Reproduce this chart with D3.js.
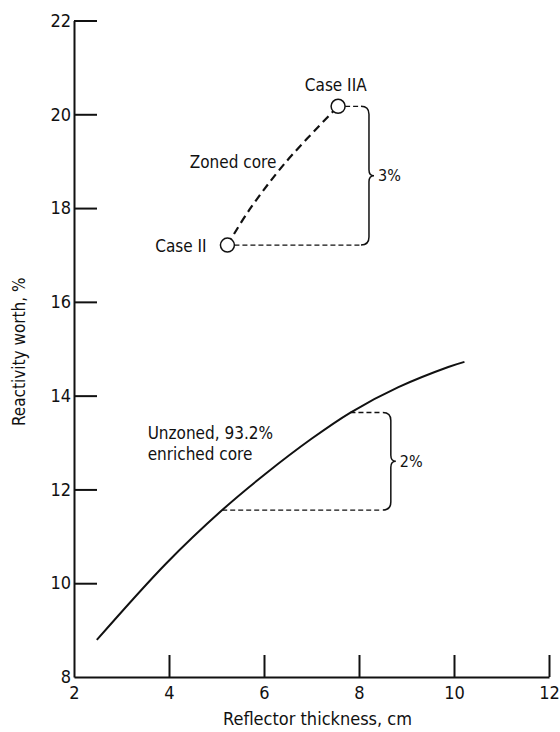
<!DOCTYPE html>
<html>
<head>
<meta charset="utf-8">
<script src="https://cdn.jsdelivr.net/npm/d3@7"></script>
<style>
  body { margin: 0; background: #fff; }
  svg text { font-family: "Liberation Sans Narrow", "DejaVu Sans Condensed", "Roboto", sans-serif; fill: #111; }
</style>
</head>
<body>
<svg id="chart" width="560" height="732"></svg>
<script>
// Unzoned, 93.2% enriched core (solid curve)
const unzonedX = [2.48, 3.94, 5.12, 6.04, 7.0, 7.82, 8.83, 9.88, 10.22];
const unzonedY = [8.79, 10.42, 11.56, 12.34, 13.08, 13.64, 14.18, 14.61, 14.72];

// Zoned core (dashed, Case II -> Case IIA)
const zonedX = [5.23, 5.69, 6.46, 7.56];
const zonedY = [17.21, 17.96, 18.98, 20.17];

const xTicks = [2, 4, 6, 8, 10, 12];
const yTicks = [8, 10, 12, 14, 16, 18, 20, 22];

// brackets: x position and label
const braceX = [8.21, 8.67];
const braceLabels = ["3%", "2%"];

const svg = d3.select("#chart");

const x = d3.scaleLinear().domain([2, 12]).range([74, 549]);
const y = d3.scaleLinear().domain([8, 22]).range([677, 20.5]);

// axes
const xAxis = d3.axisBottom(x)
  .tickValues(xTicks)
  .tickSizeInner(-22)
  .tickSizeOuter(0)
  .tickPadding(9)
  .tickFormat(d3.format("d"));
const yAxis = d3.axisLeft(y)
  .tickValues(yTicks)
  .tickSizeInner(-23)
  .tickSizeOuter(0)
  .tickPadding(3)
  .tickFormat(d3.format("d"));

const gx = svg.append("g")
  .attr("transform", `translate(0,${y(8)})`)
  .call(xAxis);
const gy = svg.append("g")
  .attr("transform", `translate(${x(2)},0)`)
  .call(yAxis);

[gx, gy].forEach(g => {
  g.select(".domain").attr("stroke", "#111").attr("stroke-width", 2);
  g.selectAll(".tick line").attr("stroke", "#111").attr("stroke-width", 2);
  g.selectAll(".tick text").attr("font-size", 18).attr("fill", "#111")
    .style("font-family", null);
});
gx.selectAll(".tick").filter(d => d === 2).select("line").remove();
gy.selectAll(".tick").filter(d => d === 8).select("line").remove();

// axis titles
svg.append("text")
  .attr("x", (x(2) + x(12)) / 2 + 6)
  .attr("y", 725)
  .attr("text-anchor", "middle")
  .attr("font-size", 18)
  .text("Reflector thickness, cm");

svg.append("text")
  .attr("transform", `translate(25,${(y(8) + y(22)) / 2 + 3}) rotate(-90)`)
  .attr("text-anchor", "middle")
  .attr("font-size", 17)
  .text("Reactivity worth, %");

// unzoned curve
const unzoned = unzonedX.map((d, i) => [d, unzonedY[i]]);
const line = d3.line()
  .x(d => x(d[0]))
  .y(d => y(d[1]))
  .curve(d3.curveCatmullRom);

svg.append("path")
  .datum(unzoned)
  .attr("fill", "none")
  .attr("stroke", "#111")
  .attr("stroke-width", 2)
  .attr("d", line);

// zoned core dashed curve
const zoned = zonedX.map((d, i) => [d, zonedY[i]]);
svg.append("path")
  .datum(zoned)
  .attr("fill", "none")
  .attr("stroke", "#111")
  .attr("stroke-width", 2.2)
  .attr("stroke-dasharray", "8,5")
  .attr("d", line);

// brackets
const r = 7;
function bracePath(px, yTop, yBot) {
  const ym = (yTop + yBot) / 2;
  return `M${px - 8},${yTop} Q${px},${yTop} ${px},${yTop + 8}
    L${px},${ym - 6} Q${px},${ym} ${px + 5},${ym} Q${px},${ym} ${px},${ym + 6}
    L${px},${yBot - 8} Q${px},${yBot} ${px - 8},${yBot}`;
}

const braces = [
  { x: braceX[0], lo: zoned[0], hi: zoned[zoned.length - 1], gap: r, label: braceLabels[0] },
  { x: braceX[1], lo: unzoned[2], hi: unzoned[5], gap: 0, label: braceLabels[1] }
];

braces.forEach(b => {
  const px = x(b.x);
  const yTop = y(b.hi[1]), yBot = y(b.lo[1]);
  svg.append("path")
    .attr("d", bracePath(px, yTop, yBot))
    .attr("fill", "none")
    .attr("stroke", "#111")
    .attr("stroke-width", 1.5);
  [b.lo, b.hi].forEach(p => {
    svg.append("line")
      .attr("x1", x(p[0]) + b.gap)
      .attr("x2", px - 9)
      .attr("y1", y(p[1]))
      .attr("y2", y(p[1]))
      .attr("stroke", "#111")
      .attr("stroke-width", 1.3)
      .attr("stroke-dasharray", "5,3");
  });
  svg.append("text")
    .attr("x", px + 9)
    .attr("y", (yTop + yBot) / 2)
    .attr("dy", "0.35em")
    .attr("font-size", 16)
    .text(b.label);
});

// case markers
svg.selectAll("circle.case")
  .data([zoned[0], zoned[zoned.length - 1]])
  .join("circle")
  .attr("class", "case")
  .attr("cx", d => x(d[0]))
  .attr("cy", d => y(d[1]))
  .attr("r", r)
  .attr("fill", "#fff")
  .attr("stroke", "#111")
  .attr("stroke-width", 1.5);

// annotation labels
const notes = [
  { t: "Case IIA", x: 7.51, y: 20.5, a: "middle" },
  { t: "Zoned core", x: 6.26, y: 18.85, a: "end" },
  { t: "Case II", x: 4.79, y: 17.06, a: "end" },
  { t: "Unzoned, 93.2%", x: 3.55, y: 13.07, a: "start" },
  { t: "enriched core", x: 3.55, y: 12.62, a: "start" }
];
svg.selectAll("text.note")
  .data(notes)
  .join("text")
  .attr("class", "note")
  .attr("x", d => x(d.x))
  .attr("y", d => y(d.y))
  .attr("text-anchor", d => d.a)
  .attr("font-size", 17)
  .text(d => d.t);
</script>
</body>
</html>
